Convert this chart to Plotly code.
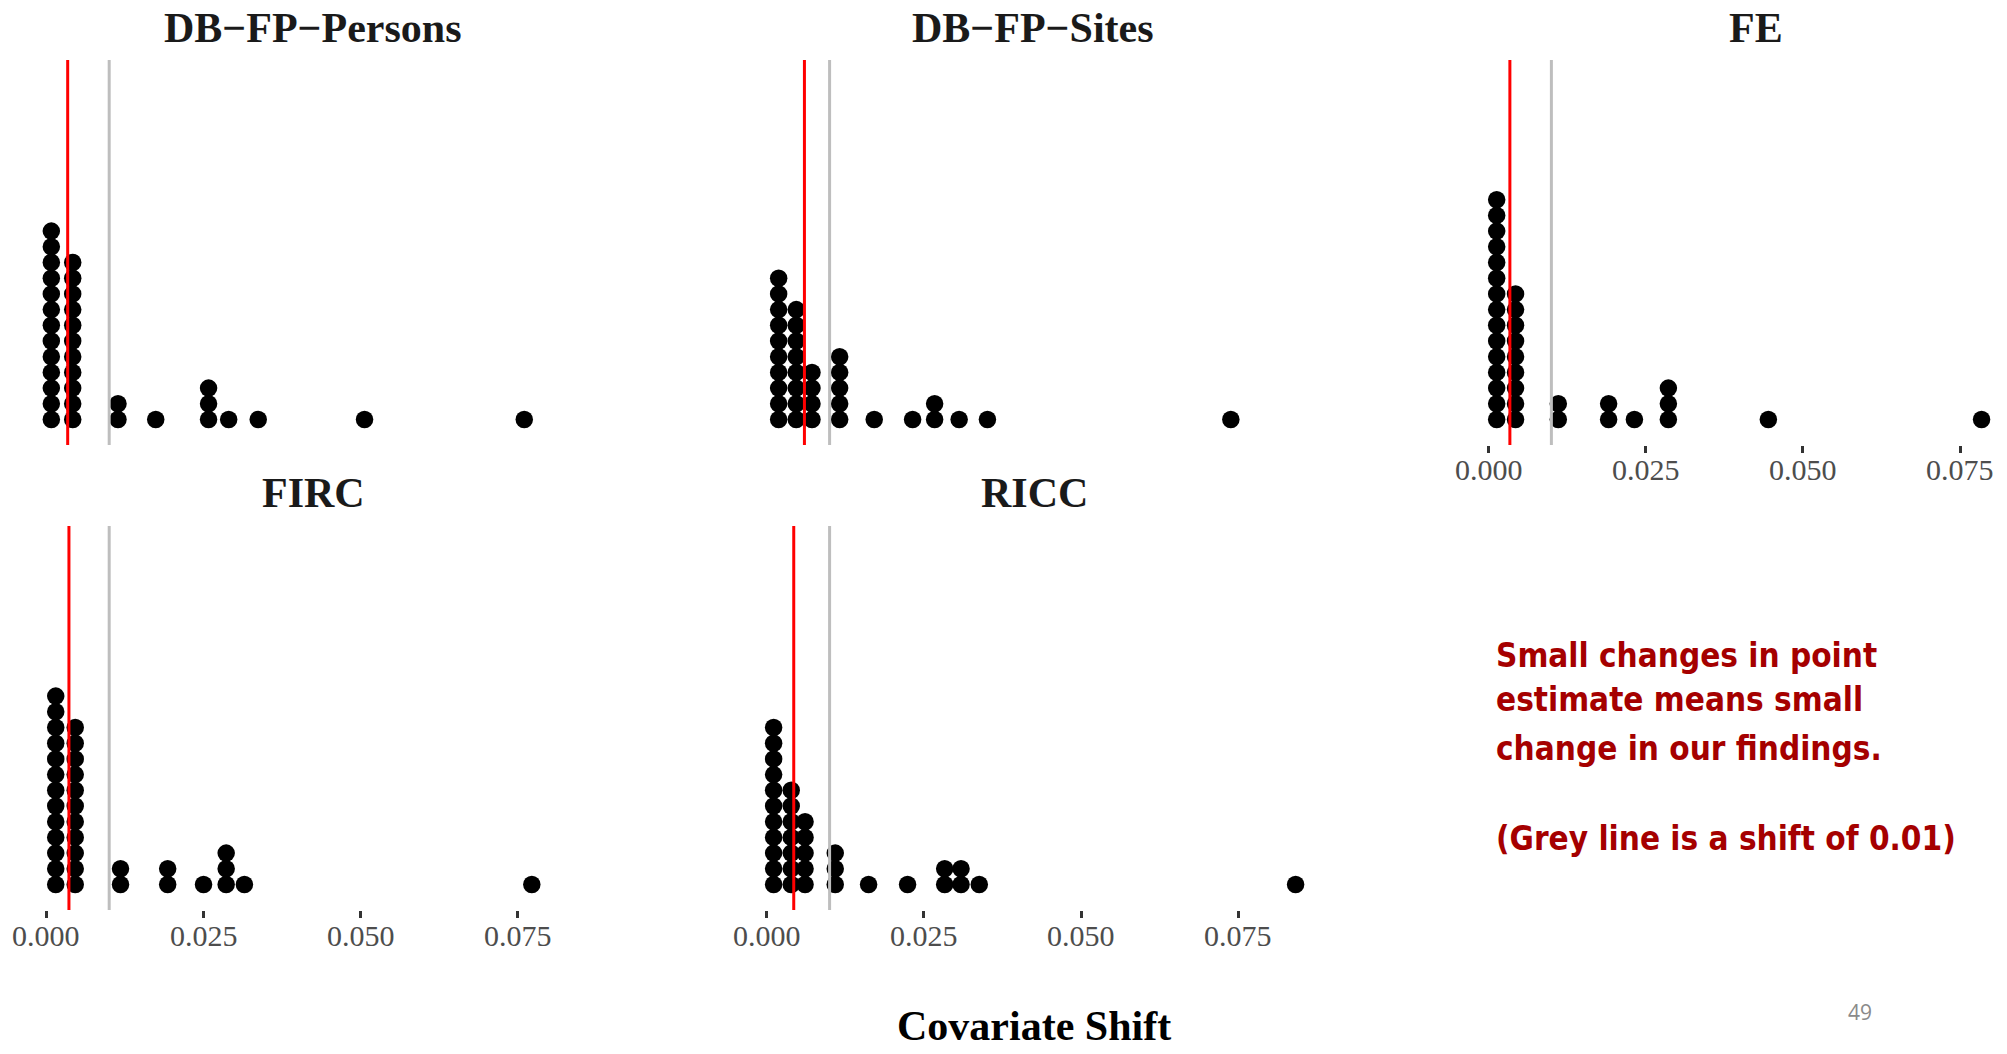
import plotly.graph_objects as go

# ---------------- data ----------------
panels = ["DB−FP−Persons", "DB−FP−Sites", "FE", "FIRC", "RICC"]

persons_x = [0.0008, 0.0042, 0.0114, 0.0174, 0.0258, 0.0290, 0.0337, 0.0506, 0.0760]
persons_n = [13, 11, 2, 1, 3, 1, 1, 1, 1]

sites_x = [0.0019, 0.0047, 0.0072, 0.0116, 0.0171, 0.0232, 0.0267, 0.0306, 0.0351, 0.0738]
sites_n = [10, 8, 4, 5, 1, 1, 2, 1, 1, 1]

fe_x = [0.0013, 0.0043, 0.0111, 0.0191, 0.0232, 0.0286, 0.0445, 0.0784]
fe_n = [15, 9, 2, 2, 1, 3, 1, 1]

firc_x = [0.0015, 0.0046, 0.0118, 0.0193, 0.0250, 0.0286, 0.0315, 0.0772]
firc_n = [13, 11, 2, 2, 1, 3, 1, 1]

ricc_x = [0.0011, 0.0039, 0.0061, 0.0109, 0.0162, 0.0224, 0.0283, 0.0309, 0.0338, 0.0841]
ricc_n = [11, 7, 5, 3, 1, 1, 2, 2, 1, 1]

red_line = [0.0034, 0.0060, 0.0034, 0.0036, 0.0043]   # per-panel estimate
grey_shift = 0.01
tick_vals = [0.0, 0.025, 0.05, 0.075]
tick_text = ["0.000", "0.025", "0.050", "0.075"]

note_lines = ["Small changes in point", "estimate means small",
              "change in our findings.", "(Grey line is a shift of 0.01)"]
x_title = "Covariate Shift"
page_no = "49"

# ---------------- layout geometry (page pixels) ----------------
W, H = 2007, 1054


def px(xp):
    return xp / W


def py(yp):
    return (H - yp) / H


SCALE = 6289                     # px per unit of covariate shift (shared scale)
zero_px = [46.3, 766.7, 1488.5, 46.3, 766.7]
dom_px = [(13, 613), (734, 1334), (1456, 2000), (13, 613), (734, 1334)]
row_px = [(60, 445), (60, 445), (60, 445), (526, 910), (526, 910)]
show_ticks = [False, False, True, True, True]
ticklabel_y = [None, None, 469, 935, 935]
dot_step = 15.7      # px between stacked dot centres
dot_base = 25.5      # px from panel bottom to first dot centre
title_pos = [(313, 28), (1033, 28), (1756, 28), (313, 493), (1034, 493)]

data_x = [persons_x, sites_x, fe_x, firc_x, ricc_x]
data_n = [persons_n, sites_n, fe_n, firc_n, ricc_n]

serif = "Liberation Serif, Times New Roman, serif"

fig = go.Figure()
layout = dict(width=W, height=H, margin=dict(l=0, r=0, t=0, b=0),
              paper_bgcolor="white", plot_bgcolor="white", showlegend=False)
shapes = []
annotations = []

for i in range(5):
    sfx = "" if i == 0 else str(i + 1)
    L, R = dom_px[i]
    T, B = row_px[i]
    p0 = zero_px[i]
    xr = [(L - p0) / SCALE, (R - p0) / SCALE]
    hpx = B - T
    yr = [-dot_base / dot_step, (hpx - dot_base) / dot_step]

    xs, ys = [], []
    for xv, n in zip(data_x[i], data_n[i]):
        for k in range(n):
            xs.append(xv)
            ys.append(k)
    fig.add_trace(go.Scatter(x=xs, y=ys, mode="markers", xaxis="x" + sfx, yaxis="y" + sfx,
                             marker=dict(color="black", size=17.5, line=dict(width=0)),
                             hoverinfo="x"))

    layout["xaxis" + sfx] = dict(
        domain=[px(L), px(R)], range=xr, anchor="y" + sfx,
        showgrid=False, zeroline=False, showline=False,
        ticks="outside" if show_ticks[i] else "", ticklen=7, tickwidth=2.5, tickcolor="#333333",
        showticklabels=False, tickvals=tick_vals,
    )
    layout["yaxis" + sfx] = dict(
        domain=[py(B), py(T)], range=yr, anchor="x" + sfx,
        showgrid=False, zeroline=False, showline=False, showticklabels=False, ticks="",
    )

    # tick labels
    if show_ticks[i]:
        for tv, tt in zip(tick_vals, tick_text):
            annotations.append(dict(text=tt, x=tv, xref="x" + sfx, y=py(ticklabel_y[i]),
                                    yref="paper", showarrow=False,
                                    xanchor="center", yanchor="middle",
                                    font=dict(family=serif, size=30, color="#4D4D4D")))

    # grey reference line and red estimate line (drawn above the dots)
    shapes.append(dict(type="line", xref="x" + sfx, yref="y" + sfx + " domain",
                       x0=grey_shift, x1=grey_shift, y0=0, y1=1, layer="above",
                       line=dict(color="#BEBEBE", width=3)))
    shapes.append(dict(type="line", xref="x" + sfx, yref="y" + sfx + " domain",
                       x0=red_line[i], x1=red_line[i], y0=0, y1=1, layer="above",
                       line=dict(color="#FF0000", width=3)))

    tx, ty = title_pos[i]
    annotations.append(dict(text="<b>" + panels[i] + "</b>", x=px(tx), y=py(ty),
                            xref="paper", yref="paper", showarrow=False,
                            xanchor="center", yanchor="middle",
                            font=dict(family=serif, size=42, color="#1A1A1A")))

annotations.append(dict(text="<b>" + x_title + "</b>", x=px(1034), y=py(1026),
                        xref="paper", yref="paper", showarrow=False,
                        xanchor="center", yanchor="middle",
                        font=dict(family=serif, size=42, color="black")))

note_y = [655, 700, 748, 838]
for line, yy in zip(note_lines, note_y):
    annotations.append(dict(text="<b>" + line + "</b>", x=px(1494), y=py(yy),
                            xref="paper", yref="paper", showarrow=False,
                            xanchor="left", yanchor="middle",
                            font=dict(family="DejaVu Sans Condensed, Liberation Sans Narrow, sans-serif",
                                      size=33, color="#A50000")))

annotations.append(dict(text=page_no, x=px(1860), y=py(1012),
                        xref="paper", yref="paper", showarrow=False,
                        xanchor="center", yanchor="middle",
                        font=dict(family="Open Sans, sans-serif", size=21, color="#8A8A8A")))

layout["shapes"] = shapes
layout["annotations"] = annotations
fig.update_layout(**layout)
# remove the default page margin so the figure fills the window exactly
fig.write_html("out.html", config={"displayModeBar": False},
               post_script="document.body.style.margin='0';")
